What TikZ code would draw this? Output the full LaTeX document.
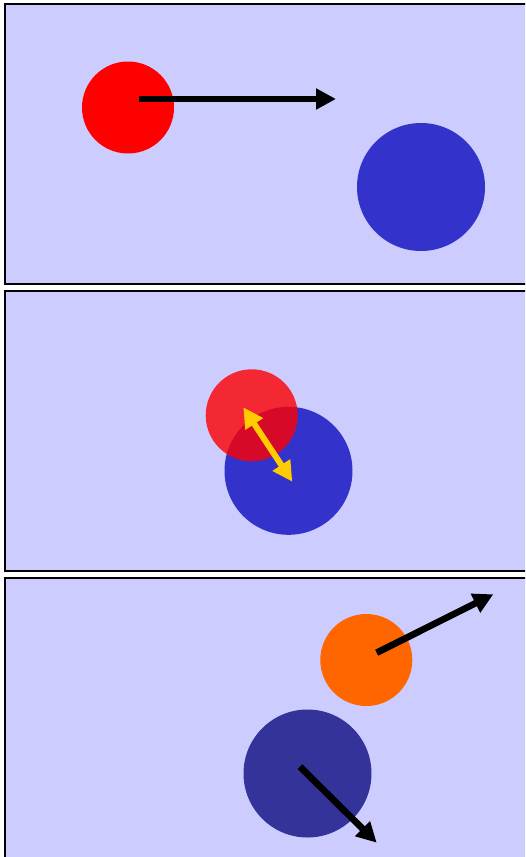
\documentclass[tikz,border=0pt]{standalone}
\usetikzlibrary{arrows.meta}
\definecolor{panelbg}{HTML}{CCCCFF}
\definecolor{ballred}{HTML}{FF0000}
\definecolor{ballblue}{HTML}{3333CC}
\definecolor{ballorange}{HTML}{FF6600}
\definecolor{balldark}{HTML}{333399}
\definecolor{hitcolor}{HTML}{FFCC00}
\tikzset{
  panel/.style    ={draw=black, line width=1.5pt, fill=panelbg},
  ball/.style     ={circle, inner sep=0pt, draw=none},
  smallball/.style={ball, minimum size=69pt},
  bigball/.style  ={ball, minimum size=96pt},
  vel/.style      ={-{Triangle[length=15pt,width=15pt]}, line width=5pt, draw=black},
  hitarrow/.style ={{Triangle[length=15pt,width=15pt]}-{Triangle[length=15pt,width=15pt]},
                    line width=4.5pt, draw=hitcolor}
}
\begin{document}
\begin{tikzpicture}[x=0.75pt, y=-0.75pt]
  \useasboundingbox (0,0) rectangle (525,857);
  \clip (0,0) rectangle (525,857);

  % Panel 1 : before the hit
  \path[panel] (5,3.5) rectangle (545,283.5);
  \node[smallball, fill=ballred]  (red1)  at (128,107.5) {};
  \node[bigball,   fill=ballblue] (blue1) at (421,187)   {};
  \coordinate (v1s) at (139,99);
  \coordinate (v1e) at (336,99);
  \draw[vel] (v1s) -- (v1e);

  % Panel 2 : the hit
  \path[panel] (5,290.5) rectangle (545,570.5);
  \node[bigball,   fill=ballblue] (blue2) at (288.5,470.8) {};
  \node[smallball, fill=ballred, fill opacity=0.8] (red2) at (251.7,415.3) {};
  \coordinate (h2a) at (243.3,407.3);
  \coordinate (h2b) at (292.3,481.7);
  \draw[hitarrow] (h2a) -- (h2b);

  % Panel 3 : after the hit
  \path[panel] (5,577.5) rectangle (545,880);
  \node[smallball, fill=ballorange] (orange3) at (366.3,660)   {};
  \node[bigball,   fill=balldark]   (dark3)   at (307.5,773.5) {};
  \coordinate (v3s) at (376.7,652.7);
  \coordinate (v3e) at (493.3,594.3);
  \coordinate (v4s) at (300,766.7);
  \coordinate (v4e) at (376.7,842.7);
  \draw[vel] (v3s) -- (v3e);
  \draw[vel] (v4s) -- (v4e);
\end{tikzpicture}
\end{document}
